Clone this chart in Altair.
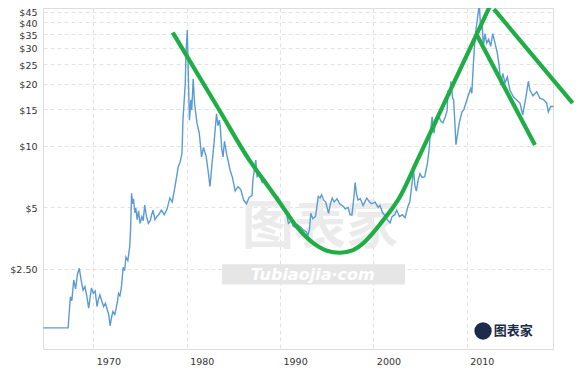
import altair as alt
import pandas as pd

# Silver price (USD/oz, log scale)
years = [
    1964.65, 1965.0, 1965.5, 1966.0, 1966.5, 1967.0, 1967.3, 1967.45, 1967.55, 1967.7,
    1967.9, 1968.1, 1968.3, 1968.5, 1968.7, 1968.9, 1969.1, 1969.3, 1969.5, 1969.65,
    1969.8, 1970.0, 1970.2, 1970.4, 1970.55, 1970.7, 1970.9, 1971.1, 1971.3, 1971.5,
    1971.65, 1971.8, 1971.95, 1972.1, 1972.3, 1972.45, 1972.6, 1972.7, 1972.85, 1973.0,
    1973.2, 1973.35, 1973.5, 1973.7, 1973.9, 1974.0, 1974.1, 1974.2, 1974.3, 1974.45,
    1974.55, 1974.7, 1974.85, 1975.0, 1975.2, 1975.35, 1975.5, 1975.7, 1975.9, 1976.1,
    1976.25, 1976.4, 1976.6, 1976.8, 1977.0, 1977.3, 1977.6, 1977.9, 1978.2, 1978.45,
    1978.75, 1979.1, 1979.3, 1979.5, 1979.6, 1979.75, 1979.85, 1979.93, 1980.07, 1980.2,
    1980.3, 1980.45, 1980.55, 1980.7, 1980.85, 1981.1, 1981.35, 1981.6, 1981.8, 1982.1,
    1982.3, 1982.5, 1982.7, 1982.9, 1983.2, 1983.35, 1983.5, 1983.6, 1983.75, 1983.9,
    1984.05, 1984.3, 1984.5, 1984.65, 1984.9, 1985.2, 1985.5, 1985.8, 1986.1, 1986.4,
    1986.7, 1987.0, 1987.1, 1987.4, 1987.55, 1987.8, 1988.1, 1988.4, 1988.6, 1988.9,
    1989.2, 1989.5, 1989.8, 1990.2, 1990.5, 1990.7, 1990.9, 1991.2, 1991.4, 1991.6,
    1991.9, 1992.2, 1992.5, 1992.8, 1993.0, 1993.15, 1993.3, 1993.5, 1993.8, 1994.1,
    1994.3, 1994.45, 1994.7, 1994.9, 1995.2, 1995.4, 1995.6, 1995.8, 1996.1, 1996.4,
    1996.8, 1997.0, 1997.3, 1997.5, 1997.7, 1997.9, 1998.05, 1998.2, 1998.35, 1998.6,
    1998.9, 1999.3, 1999.6, 1999.8, 2000.2, 2000.5, 2000.7, 2001.0, 2001.2, 2001.5,
    2001.8, 2002.0, 2002.3, 2002.5, 2002.8, 2003.1, 2003.4, 2003.7, 2003.9, 2004.1,
    2004.3, 2004.45, 2004.6, 2004.8, 2005.0, 2005.2, 2005.5, 2005.8, 2006.0, 2006.1,
    2006.3, 2006.5, 2006.6, 2006.8, 2006.95, 2007.2, 2007.45, 2007.7, 2007.9, 2008.0,
    2008.2, 2008.3, 2008.5, 2008.6, 2008.75, 2008.85, 2009.0, 2009.2, 2009.5, 2009.7,
    2009.9, 2010.2, 2010.43, 2010.55, 2010.7, 2010.9, 2011.13, 2011.35, 2011.5, 2011.64,
    2011.78, 2011.96, 2012.14, 2012.35, 2012.57, 2012.79, 2013.03, 2013.28, 2013.49, 2013.64,
    2013.86, 2014.1, 2014.35, 2014.64, 2014.99, 2015.3, 2015.71, 2016.0, 2016.35, 2016.6,
    2016.78, 2017.1, 2017.5, 2017.85, 2018.2, 2018.57, 2018.74, 2019.0, 2019.3,
]
prices = [
    1.29, 1.29, 1.29, 1.29, 1.29, 1.29, 1.29, 1.60, 1.83, 1.75,
    2.21, 2.00, 2.35, 2.52, 2.20, 1.97, 2.05, 1.85, 1.61, 1.80,
    2.02, 1.90, 1.95, 1.64, 1.78, 1.87, 1.75, 1.64, 1.70, 1.58,
    1.50, 1.32, 1.45, 1.55, 1.50, 1.61, 1.75, 1.90, 1.85, 2.02,
    2.55, 2.45, 2.86, 2.75, 3.21, 4.00, 5.85, 5.20, 5.50, 4.70,
    4.95, 4.35, 4.80, 4.17, 4.50, 4.30, 5.12, 4.50, 4.17, 4.30,
    4.60, 4.84, 4.35, 4.50, 4.60, 4.84, 4.60, 4.90, 5.55, 5.30,
    6.31, 7.88, 8.30, 9.17, 13.3, 17.0, 20.0, 28.3, 36.6, 20.0,
    13.3, 16.7, 14.9, 21.2, 16.0, 12.9, 11.5, 8.8, 9.8, 8.8,
    7.5, 6.31, 8.0, 9.9, 14.3, 12.5, 13.3, 12.4, 9.7, 8.8,
    10.5, 9.0, 8.2, 7.6, 7.0, 6.0, 6.3, 6.1, 5.43, 5.2,
    5.6, 5.7, 6.81, 8.5, 7.06, 7.2, 6.6, 6.8, 6.6, 6.1,
    5.8, 5.54, 5.6, 5.04, 4.8, 4.67, 4.17, 4.3, 4.05, 4.0,
    4.1, 4.0, 3.87, 3.8, 3.65, 3.9, 4.67, 4.4, 4.5, 5.65,
    5.54, 5.75, 5.4, 5.3, 4.67, 5.2, 5.54, 5.3, 5.5, 5.2,
    5.04, 4.9, 5.0, 4.6, 4.58, 5.5, 6.6, 5.8, 5.43, 5.5,
    5.1, 5.54, 5.3, 5.2, 5.3, 5.0, 5.1, 4.7, 4.58, 4.35,
    4.2, 4.5, 4.6, 4.85, 4.5, 4.6, 4.45, 5.04, 5.3, 6.3,
    7.6, 6.4, 6.0, 6.8, 7.3, 7.0, 7.06, 8.2, 9.9, 11.5,
    13.8, 11.5, 12.5, 13.0, 14.3, 13.2, 12.9, 13.8, 14.8, 18.6,
    17.5, 20.6, 17.0, 16.7, 12.5, 10.1, 11.2, 12.9, 14.6, 15.0,
    16.1, 17.7, 19.0, 18.0, 24.3, 34.0, 41.0, 49.0, 36.6, 41.0,
    30.5, 35.2, 31.6, 33.0, 30.5, 35.2, 31.6, 28.3, 24.3, 19.7,
    22.5, 20.2, 21.6, 18.6, 17.3, 16.8, 16.1, 14.1, 17.3, 20.6,
    18.6, 17.5, 18.3, 17.0, 16.8, 16.1, 14.6, 15.5, 15.5,
]

# Hand-drawn green trend lines (in data coordinates: year, price)
trend_id = ["A"] * 16 + ["B"] * 2 + ["C"] * 2
trend_year = [1978.51, 1983.57, 1986.79, 1988.39, 1990.0, 1991.79, 1993.57, 1994.93,
              1996.43, 1997.82, 1998.92, 1999.96, 2001.07, 2002.85, 2004.76, 2012.42,
              2011.07, 2017.31,
              2012.92, 2021.35]
trend_price = [35.6, 14.7, 8.39, 6.64, 5.25, 4.02, 3.34, 3.08,
               3.00, 3.09, 3.34, 3.75, 4.33, 5.63, 8.56, 47.2,
               34.7, 10.07,
               46.3, 16.1]

y_ticks = [2.5, 5, 10, 15, 20, 25, 30, 35, 40, 45]
x_ticks = [1970, 1980, 1990, 2000, 2010]

# Watermark (data coordinates)
wm_year = [1994.28]
wm_price = [3.95]
wm_text = ["图表家"]
banner_year = [1983.8, 2003.4]
banner_price = [2.10, 2.64]
banner_text = ["Tubiaojia·com"]
banner_text_pos = [1993.5, 2.34]
logo_pos = [2011.75, 1.246]
logo_text_pos = [2015.0, 1.246]

df = pd.DataFrame({"year": years, "price": prices})
tdf = pd.DataFrame({"seg": trend_id, "year": trend_year, "price": trend_price,
                    "ord": list(range(len(trend_id)))})

X_DOMAIN = [1964.61, 2019.245]
Y_DOMAIN = [1.0175, 46.9]

xscale = alt.Scale(domain=X_DOMAIN, nice=False, zero=False)
yscale = alt.Scale(type="log", domain=Y_DOMAIN, nice=False)

grid_kw = dict(grid=True, gridColor="#e2e2e2", gridDash=[4, 3], gridWidth=1,
               domain=False, ticks=False, tickSize=0,
               labelFont="DejaVu Sans", labelFontSize=9.5, labelColor="#333333")

xaxis = alt.Axis(values=x_ticks, format="d", title=None, labelAlign="left",
                 labelOffset=3, labelPadding=7, **grid_kw)
yaxis = alt.Axis(values=y_ticks, title=None, labelPadding=6, labelOffset=1,
                 labelExpr="datum.value == 2.5 ? '$2.50' : '$' + format(datum.value, 'd')",
                 **grid_kw)

line = alt.Chart(df).mark_line(color="#5b9bd5", strokeWidth=1.4).encode(
    x=alt.X("year:Q", scale=xscale, axis=xaxis),
    y=alt.Y("price:Q", scale=yscale, axis=yaxis),
)

wm = alt.Chart(pd.DataFrame({"year": wm_year, "price": wm_price, "t": wm_text})).mark_text(
    font="Noto Sans CJK SC", fontSize=52, fontWeight="bold", color="#ebebeb",
    align="center", baseline="middle"
).encode(x=alt.X("year:Q", scale=xscale), y=alt.Y("price:Q", scale=yscale), text="t:N")

banner = alt.Chart(pd.DataFrame({"x1": [banner_year[0]], "x2": [banner_year[1]],
                                 "y1": [banner_price[0]], "y2": [banner_price[1]]})).mark_rect(
    color="#e6e6e6"
).encode(x=alt.X("x1:Q", scale=xscale), x2="x2:Q",
         y=alt.Y("y1:Q", scale=yscale), y2="y2:Q")

banner_t = alt.Chart(pd.DataFrame({"year": [banner_text_pos[0]], "price": [banner_text_pos[1]],
                                   "t": banner_text})).mark_text(
    font="DejaVu Sans", fontSize=16, fontWeight="bold", fontStyle="italic", color="#ffffff",
    align="center", baseline="middle"
).encode(x=alt.X("year:Q", scale=xscale), y=alt.Y("price:Q", scale=yscale), text="t:N")

logo = alt.Chart(pd.DataFrame({"year": [logo_pos[0]], "price": [logo_pos[1]]})).mark_point(
    filled=True, size=300, color="#1c2b4a", opacity=1
).encode(x=alt.X("year:Q", scale=xscale), y=alt.Y("price:Q", scale=yscale))

logo_t = alt.Chart(pd.DataFrame({"year": [logo_text_pos[0]], "price": [logo_text_pos[1]],
                                 "t": ["图表家"]})).mark_text(
    font="Noto Sans CJK SC", fontSize=13, fontWeight="bold", color="#1c2b4a",
    align="center", baseline="middle"
).encode(x=alt.X("year:Q", scale=xscale), y=alt.Y("price:Q", scale=yscale), text="t:N")

trend = alt.Chart(tdf).mark_line(color="#1fad45", strokeWidth=4.2, interpolate="monotone",
                                 strokeCap="butt").encode(
    x=alt.X("year:Q", scale=xscale),
    y=alt.Y("price:Q", scale=yscale),
    detail="seg:N",
    order="ord:Q",
)

chart = alt.layer(wm, banner, banner_t, logo, logo_t, line, trend).properties(
    width=510, height=341,
    autosize=alt.AutoSizeParams(type="none"),
    padding={"left": 35, "top": 0, "right": 25, "bottom": 25},
).configure_view(stroke=None).configure(background="white")

chart.save("out.html", embed_options={"renderer": "svg", "actions": False})
